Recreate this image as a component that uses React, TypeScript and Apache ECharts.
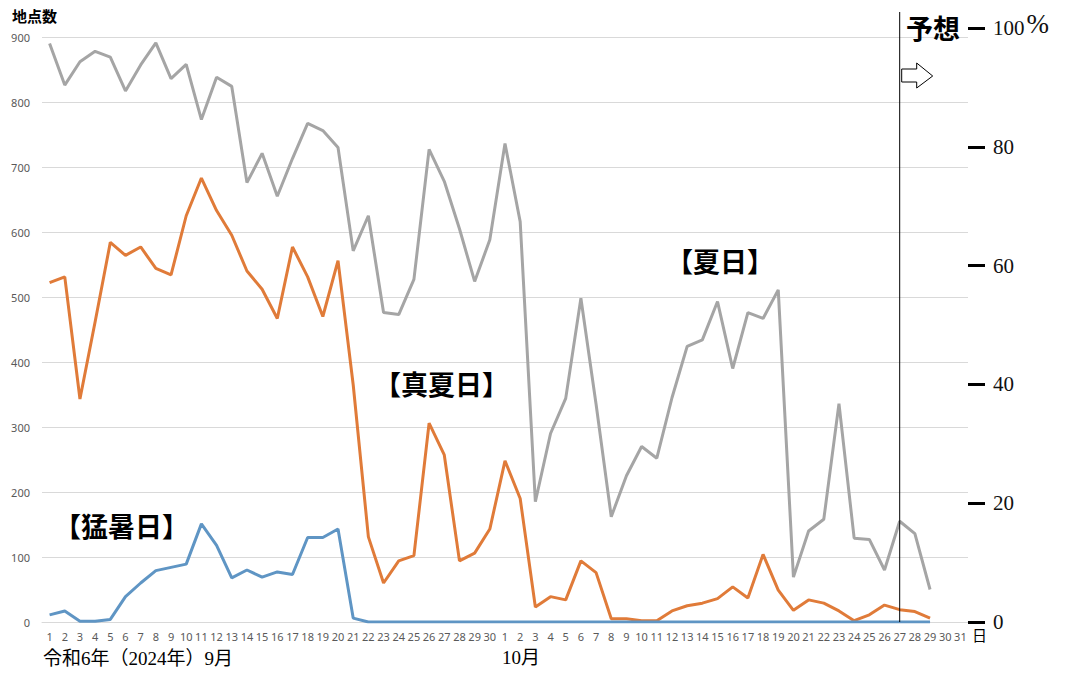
import React, { useEffect, useRef } from "react";
import * as echarts from "echarts";

// x categories: Sep 1-30, Oct 1-31 (2024)
const dayLabels = [
  "1", "2", "3", "4", "5", "6", "7", "8", "9", "10",
  "11", "12", "13", "14", "15", "16", "17", "18", "19", "20",
  "21", "22", "23", "24", "25", "26", "27", "28", "29", "30",
  "1", "2", "3", "4", "5", "6", "7", "8", "9", "10",
  "11", "12", "13", "14", "15", "16", "17", "18", "19", "20",
  "21", "22", "23", "24", "25", "26", "27", "28", "29", "30", "31",
];

// 夏日 (gray)
const natsubi = [
  890, 826, 862, 878, 869, 817, 857, 891, 836, 858,
  773, 838, 824, 676, 721, 655, 713, 767, 756, 730,
  571, 625, 476, 473, 527, 727, 678, 605, 524, 588,
  736, 616, 185, 290, 344, 498, 335, 162, 225, 270,
  252, 345, 424, 434, 493, 390, 476, 467, 511, 69,
  140, 158, 336, 129, 127, 80, 155, 136, 50, null, null,
];

// 真夏日 (orange)
const manatsubi = [
  522, 531, 343, 462, 584, 564, 577, 544, 534, 625,
  683, 633, 595, 540, 512, 467, 577, 531, 470, 556,
  365, 131, 60, 94, 102, 306, 257, 94, 106, 143,
  248, 190, 23, 39, 34, 94, 76, 5, 5, 2,
  2, 17, 25, 29, 36, 54, 37, 104, 49, 18,
  34, 29, 17, 2, 11, 26, 19, 16, 6, null, null,
];

// 猛暑日 (blue)
const moshobi = [
  11, 17, 1, 1, 4, 39, 60, 79, 84, 89,
  151, 118, 68, 80, 69, 77, 73, 130, 130, 143,
  6, 0, 0, 0, 0, 0, 0, 0, 0, 0,
  0, 0, 0, 0, 0, 0, 0, 0, 0, 0,
  0, 0, 0, 0, 0, 0, 0, 0, 0, 0,
  0, 0, 0, 0, 0, 0, 0, 0, 0, null, null,
];

const leftMin = 0;
const leftMax = 900;
const leftStep = 100;
const rightMin = 0;
const rightMax = 100;
const rightStep = 20;
const forecastStartIndex = 56; // Oct 27

const sans = "'Noto Sans', 'Open Sans', sans-serif";
const cjkBold = "'Noto Sans CJK JP', sans-serif";
const serif = "'Liberation Serif', 'DejaVu Serif', 'Noto Sans CJK JP', serif";

export default function App() {
  const ref = useRef<HTMLDivElement>(null);

  useEffect(() => {
    const chart = echarts.init(ref.current!, null, { renderer: "svg" });
    const gridLeft = 42;
    const gridRight = 103;
    const gridBottom = 63;

    chart.setOption({
      animation: false,
      backgroundColor: "#ffffff",
      grid: [
        { left: gridLeft, right: gridRight, top: 37, bottom: gridBottom },
        { left: gridLeft, right: gridRight, top: 28, bottom: gridBottom },
      ],
      xAxis: [
        {
          type: "category",
          gridIndex: 0,
          data: dayLabels,
          boundaryGap: true,
          axisLine: { show: true, lineStyle: { color: "#d9d9d9", width: 1 } },
          axisTick: { show: false },
          axisLabel: {
            interval: 0,
            color: "#595959",
            fontSize: 11,
            fontFamily: sans,
            margin: 9,
          },
        },
        {
          type: "category",
          gridIndex: 1,
          data: dayLabels,
          show: false,
        },
      ],
      yAxis: [
        {
          type: "value",
          gridIndex: 0,
          min: leftMin,
          max: leftMax,
          interval: leftStep,
          axisLine: { show: false },
          axisTick: { show: false },
          splitLine: { lineStyle: { color: "#d9d9d9", width: 1 } },
          axisLabel: {
            color: "#595959",
            fontSize: 11,
            fontFamily: sans,
            margin: 12,
          },
        },
        {
          type: "value",
          gridIndex: 1,
          position: "right",
          min: rightMin,
          max: rightMax,
          interval: rightStep,
          axisLine: { show: false },
          splitLine: { show: false },
          axisTick: {
            show: true,
            inside: false,
            length: 17,
            lineStyle: { color: "#000000", width: 3 },
          },
          axisLabel: {
            margin: 25,
            color: "#111111",
            fontSize: 21,
            fontFamily: serif,
            formatter: (v: number) => (v === 100 ? "100{p|%}" : String(v)),
            rich: {
              p: { fontSize: 27, fontFamily: serif, color: "#111111", padding: [0, 0, 8, 2] },
            },
          },
        },
      ],
      series: [
        {
          name: "夏日",
          type: "line",
          xAxisIndex: 0,
          yAxisIndex: 0,
          data: natsubi,
          showSymbol: false,
          symbol: "none",
          lineStyle: { color: "#a5a5a5", width: 3 },
          itemStyle: { color: "#a5a5a5" },
          z: 3,
        },
        {
          name: "真夏日",
          type: "line",
          xAxisIndex: 0,
          yAxisIndex: 0,
          data: manatsubi,
          showSymbol: false,
          symbol: "none",
          lineStyle: { color: "#e07b39", width: 3 },
          itemStyle: { color: "#e07b39" },
          z: 4,
        },
        {
          name: "猛暑日",
          type: "line",
          xAxisIndex: 0,
          yAxisIndex: 0,
          data: moshobi,
          showSymbol: false,
          symbol: "none",
          lineStyle: { color: "#5f95c4", width: 3 },
          itemStyle: { color: "#5f95c4" },
          z: 5,
        },
      ],
    });

    const lx = chart.convertToPixel({ xAxisIndex: 0 }, forecastStartIndex) as number;
    const y0 = chart.convertToPixel({ yAxisIndex: 0 }, 0) as number;

    chart.setOption({
      graphic: [
        {
          type: "text",
          left: 12,
          top: 8,
          style: { text: "地点数", font: `bold 15px ${cjkBold}`, fill: "#000" },
        },
        {
          type: "text",
          left: 43,
          top: 649,
          style: { text: "令和6年（2024年）9月", font: `19px ${serif}`, fill: "#000" },
        },
        {
          type: "text",
          left: 502,
          top: 648,
          style: { text: "10月", font: `19px ${serif}`, fill: "#000" },
        },
        {
          type: "text",
          left: 972,
          top: 627,
          style: { text: "日", font: `15px ${cjkBold}`, fill: "#000" },
        },
        {
          type: "text",
          left: 666,
          top: 247,
          style: { text: "【夏日】", font: `bold 27px ${cjkBold}`, fill: "#000" },
        },
        {
          type: "text",
          left: 374,
          top: 370,
          style: { text: "【真夏日】", font: `bold 27px ${cjkBold}`, fill: "#000" },
        },
        {
          type: "text",
          left: 54,
          top: 512,
          style: { text: "【猛暑日】", font: `bold 27px ${cjkBold}`, fill: "#000" },
        },
        {
          type: "text",
          left: 906,
          top: 14,
          style: { text: "予想", font: `bold 27px ${cjkBold}`, fill: "#000" },
        },
        {
          type: "line",
          shape: { x1: lx, y1: 12, x2: lx, y2: y0 },
          style: { stroke: "#000", lineWidth: 1 },
          z: 10,
        },
        {
          type: "polygon",
          shape: {
            points: [
              [lx + 2, 69],
              [lx + 17, 69],
              [lx + 17, 63],
              [lx + 33, 76],
              [lx + 17, 88],
              [lx + 17, 82],
              [lx + 2, 82],
            ],
          },
          style: { fill: "#fff", stroke: "#000", lineWidth: 1 },
          z: 10,
        },
      ],
    });

    return () => chart.dispose();
  }, []);

  return (
    <div
      ref={ref}
      style={{ position: "fixed", left: 0, top: 0, width: 1071, height: 685 }}
    />
  );
}
